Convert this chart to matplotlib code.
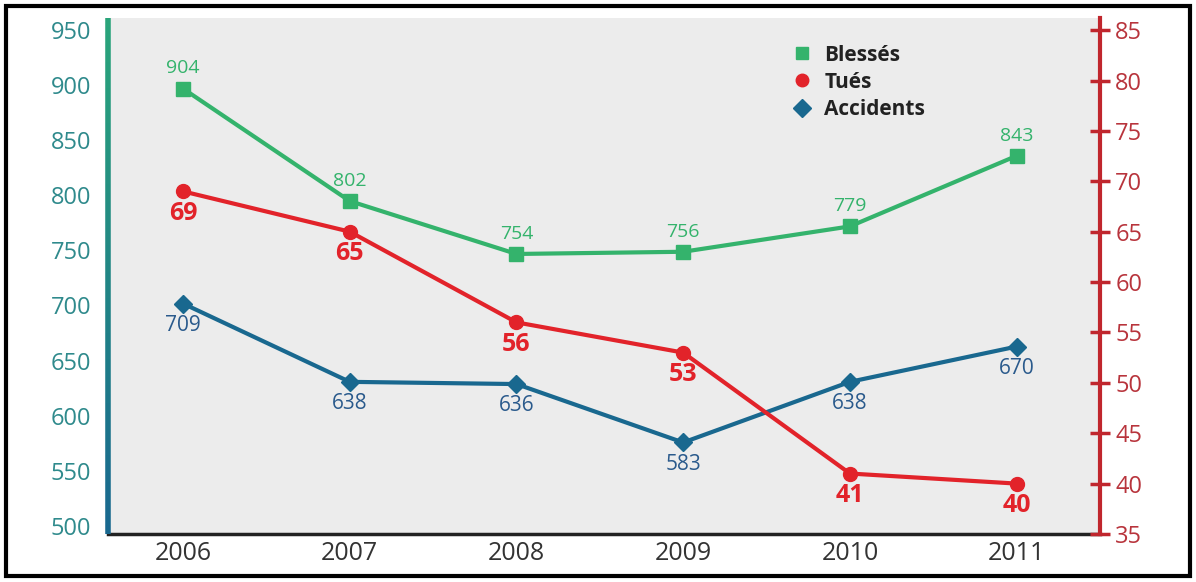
import matplotlib.pyplot as plt
import numpy as np
from matplotlib.collections import LineCollection
from matplotlib.patches import Rectangle
from matplotlib.lines import Line2D
from matplotlib.transforms import ScaledTranslation

years = [2006, 2007, 2008, 2009, 2010, 2011]
blesses = [904, 802, 754, 756, 779, 843]
accidents = [709, 638, 636, 583, 638, 670]
tues = [69, 65, 56, 53, 41, 40]

left_ticks = [500, 550, 600, 650, 700, 750, 800, 850, 900, 950]
right_ticks = [35, 40, 45, 50, 55, 60, 65, 70, 75, 80, 85]

green = '#34b36c'
red = '#e2232a'
blue = '#19688f'
font = 'Open Sans'

fig = plt.figure(figsize=(11.96, 5.82), dpi=100)
ax = fig.add_axes([0.0903, 0.0825, 0.8294, 0.8865])
ax.set_facecolor('#ececec')
ax2 = ax.twinx()

ax.plot(years, blesses, color=green, lw=3, marker='s', ms=10, zorder=3)
ax.plot(years, accidents, color=blue, lw=3, marker='D', ms=9, zorder=3)
ax2.plot(years, tues, color=red, lw=3, marker='o', ms=10, zorder=3)

for x, v in zip(years, blesses):
    ax.annotate(str(v), (x, v), xytext=(0, 8), textcoords='offset points',
                ha='center', va='bottom', color=green, fontsize=14, family=font)
for x, v in zip(years, accidents):
    ax.annotate(str(v), (x, v), xytext=(0, -8), textcoords='offset points',
                ha='center', va='top', color='#2a5a8c', fontsize=15, family=font)
for x, v in zip(years, tues):
    ax2.annotate(str(v), (x, v), xytext=(0, -7), textcoords='offset points',
                 ha='center', va='top', color=red, fontsize=18, fontweight='bold', family=font)

ax.set_xlim(2005.55, 2011.5)
ax.set_ylim(500, 968)
ax2.set_ylim(35, 86.2)

ax.set_xticks(years)
ax.set_xticklabels([str(y) for y in years], fontsize=18, color='#333333', family=font)
ax.tick_params(axis='x', length=0, pad=5)
ax.set_yticks(left_ticks)
ax.set_yticklabels([str(t) for t in left_ticks], fontsize=17, color='#2f8a8c', family=font)
ax.tick_params(axis='y', length=0, pad=12)
# labels on the original sit a little above their values
shift = ScaledTranslation(0, 8 / 100, fig.dpi_scale_trans)
for lab in ax.get_yticklabels():
    lab.set_transform(lab.get_transform() + shift)

ax2.set_yticks(right_ticks)
ax2.set_yticklabels([str(t) for t in right_ticks], fontsize=17, color='#b8343c', family=font)
ax2.tick_params(axis='y', direction='inout', length=14, width=2.5, color='#c0262d', pad=4)

for s in ['top', 'left', 'right']:
    ax.spines[s].set_visible(False)
for s in ['top', 'left', 'bottom']:
    ax2.spines[s].set_visible(False)
ax.spines['bottom'].set_color('#222222')
ax.spines['bottom'].set_linewidth(2.5)
ax2.spines['right'].set_color('#c0262d')
ax2.spines['right'].set_linewidth(3)

# left spine with green-to-blue gradient
yy = np.linspace(0, 1, 60)
pts = np.array([np.zeros_like(yy), yy]).T.reshape(-1, 1, 2)
segs = np.concatenate([pts[:-1], pts[1:]], axis=1)
cols = [plt.matplotlib.colors.to_rgb(c) for c in (blue, '#2aa57a')]
grad = [tuple(np.array(cols[0]) * (1 - t) + np.array(cols[1]) * t) for t in yy[:-1]]
lc = LineCollection(segs, colors=grad, linewidths=4, transform=ax.transAxes, clip_on=False, zorder=5)
ax.add_collection(lc)

handles = [
    Line2D([], [], color=green, marker='s', ls='none', ms=9),
    Line2D([], [], color=red, marker='o', ls='none', ms=9),
    Line2D([], [], color=blue, marker='D', ls='none', ms=9),
]
ax2.legend(handles, ['Blessés', 'Tués', 'Accidents'], loc='upper left',
           bbox_to_anchor=(0.66, 0.985), frameon=False, handletextpad=0.05,
           labelspacing=0.3, prop={'family': font, 'size': 15, 'weight': 'bold'},
           labelcolor='#222222')

fig.patches.append(Rectangle((0.005, 0.01), 0.99, 0.98, transform=fig.transFigure,
                             fill=False, edgecolor='black', lw=3))

fig.savefig('out.png', dpi=100)
